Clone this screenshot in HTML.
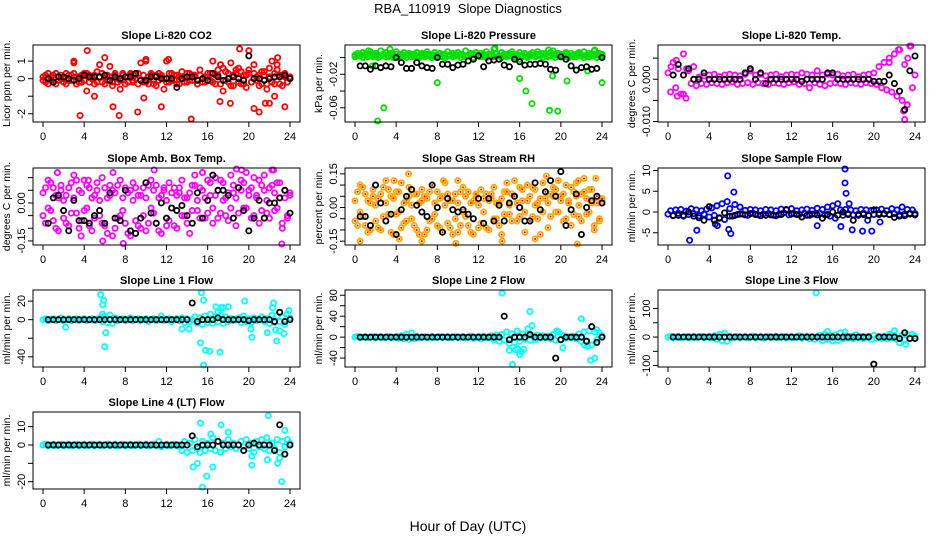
<!DOCTYPE html>
<html><head><meta charset="utf-8">
<style>
html,body{margin:0;padding:0;background:#fff;}
svg{display:block;font-family:"Liberation Sans","DejaVu Sans",sans-serif;}
</style></head>
<body>
<svg id="chart" width="936" height="540" viewBox="0 0 936 540">
<text x="468" y="13" text-anchor="middle" font-size="13" xml:space="preserve">RBA_110919  Slope Diagnostics</text>
<text x="468" y="531" text-anchor="middle" font-size="14">Hour of Day (UTC)</text>
<g id="panels"></g>
</svg>
<script>
// ---- data (hours at 0.25 h steps for coloured series, 0.5 h steps from 0.5 for black series) ----
const xTicks = [0,4,8,12,16,20,24];
const co2C = [0.1,-0.2,0.3,-0.1,0.2,-0.3,0.1,0.0,-0.2,0.3,-0.1,0.2,0.9,-0.3,0.1,-0.2,0.3,-0.7,0.2,0.1,-0.3,0.4,0.8,-0.2,0.1,-0.1,0.7,-0.4,0.2,-0.2,-0.6,0.3,0.1,-0.2,0.3,-0.1,0.2,-0.3,0.9,-0.2,1.0,-0.3,0.2,-0.1,-0.4,0.3,0.1,-0.6,1.0,-0.2,0.3,-0.1,0.2,-0.3,0.4,0.1,-0.2,0.3,-0.1,0.2,-0.3,0.5,-0.2,0.1,0.3,-0.1,1.0,-0.3,0.2,0.8,-0.7,0.4,-0.2,0.9,-0.4,0.3,0.6,-0.3,0.2,-0.5,0.3,-0.2,0.8,-0.1,0.2,-0.3,0.4,-0.6,0.1,1.0,-0.3,0.8,0.2,-0.4,0.3,-0.2,0.1];
const co2C2 = [-0.1,0.2,-0.3,0.1,-0.2,0.3,-0.1,0.2,0.0,-0.3,0.2,-0.1,0.3,0.1,-0.2,0.2,-0.1,0.3,-0.2,0.0,0.2,-0.2,0.1,0.3,-0.3,0.2,0.1,-0.2,0.3,0.0,-0.1,0.2,-0.3,0.1,0.2,-0.2,0.0,0.3,-0.1,0.2,-0.2,0.1,0.3,-0.3,0.2,-0.1,0.2,0.0,-0.2,0.3,-0.1,0.2,-0.3,0.1,0.0,-0.2,0.3,-0.1,0.2,0.1,-0.3,0.2,0.0,-0.2,0.1,0.3,-0.2,0.2,0.5,-0.3,0.6,-0.1,0.3,-0.4,0.2,0.5,-0.2,0.4,-0.3,0.2,0.5,-0.2,0.3,0.1,-0.4,0.4,0.2,-0.3,0.6,-0.2,0.3,0.5,-0.3,0.2,0.1,-0.2,0.0];
const co2OutX = [3.6,4.3,7.4,9.2,14.4,19.1,20,11.5,6.8,20.5,21,23.5,17.2,18.2,5,9.8,22.5,6,3,12.2,10,22.8,21.6,22];
const co2OutY = [-2.1,1.6,-2.1,-1.9,-2.3,1.7,1.6,-1.6,-1.6,-1.7,-1.9,-1.6,-1.3,-1.4,-1.0,-1.1,-1.0,1.2,1.0,1.1,1.1,1.2,-1.4,-1.4];
const co2B = [0,-0.2,0.1,0.1,0,-0.1,0,0.2,0.1,0.1,0.1,0.2,-0.1,0.1,0,0.1,0.1,0.3,-0.1,-0.1,0.1,0.1,0,0,0,-0.5,0,0.1,0.1,-0.1,0,-0.1,0.3,0.1,-0.1,0,0.1,0,-0.1,1.3,0,0,-0.1,0,0.1,0.1,0.2,0];

const prC = [0.003,0.005,0.002,0.006,0.004,0.001,0.007,0.003,0.005,0.002,0.008,0.004,0.006,0.001,0.005,0.003,0.007,0.002,0.004,0.006,0.003,0.005,0.001,0.004,0.006,0.002,0.005,0.003,0.007,0.004,0.002,0.006,0.003,0.005,0.001,0.004,0.007,0.003,0.005,0.002,0.006,0.004,0.003,0.008,0.002,0.005,0.004,0.006,0.003,0.005,0.002,0.007,0.004,0.003,0.010,0.005,0.002,0.006,0.004,0.003,0.005,0.007,0.002,0.004,0.006,0.003,0.005,0.001,0.004,0.006,0.002,0.007,0.003,0.005,0.004,0.002,0.006,0.008,0.003,0.005,0.004,0.002,0.006,0.003,0.005,0.001,0.004,0.006,0.003,0.007,0.002,0.005,0.004,0.008,0.003,0.005,0.004];
const prC2 = [0.001,0.002,0.004,0.000,0.003,0.002,0.004,0.001,0.003,0.000,0.002,0.004,0.001,0.003,0.002,0.000,0.004,0.001,0.003,0.002,0.000,0.003,0.004,0.001,0.002,0.000,0.003,0.001,0.004,0.002,0.000,0.003,0.001,0.002,0.004,0.000,0.002,0.003,0.001,0.004,0.002,0.000,0.003,0.001,0.002,0.004,0.000,0.003,0.002,0.001,0.004,0.000,0.002,0.003,0.001,0.004,0.002,0.000,0.003,0.001,0.002,0.004,0.000,0.003,-0.002,0.001,0.004,0.000,0.002,0.003,0.001,0.004,0.002,0.000,0.003,0.001,0.002,0.004,0.000,0.003,0.002,0.001,0.004,0.000,0.002,0.003,0.001,0.004,0.002,0.000,0.003,0.001,0.002,0.004,0.000,0.003,0.002];
const prOutX = [2.2,2.8,8,16,16.6,17.2,18.9,19.7,20.6,24,1.7,19.2,22.6,1.3,3.4,13.6,18.8,23.3];
const prOutY = [-0.085,-0.060,-0.030,-0.025,-0.040,-0.055,-0.063,-0.064,-0.028,-0.030,-0.010,-0.022,-0.016,0.008,0.010,0.011,0.009,0.009];
const prB = [-0.010,-0.010,-0.014,-0.010,-0.012,-0.010,-0.011,0.000,-0.006,-0.013,-0.013,-0.006,-0.010,-0.012,-0.013,0.000,-0.008,-0.008,-0.012,-0.009,-0.008,-0.004,-0.002,0.002,-0.011,-0.004,-0.003,-0.002,-0.009,-0.011,-0.002,-0.005,-0.009,-0.008,-0.008,-0.007,-0.008,-0.014,-0.015,0.001,-0.002,-0.010,-0.015,-0.012,-0.011,-0.014,-0.013,0.000];

const tpC = [0.0015,-0.0030,0.0040,-0.0020,0.0025,-0.0035,0.0060,-0.0045,0.0020,-0.0010,0.0030,-0.0015,0.0005,-0.0010,0.0008,-0.0012,0.0010,-0.0008,0.0012,-0.0010,0.0006,-0.0012,0.0010,-0.0008,0.0012,-0.0006,0.0010,-0.0012,0.0008,-0.0010,0.0012,-0.0008,0.0020,-0.0012,0.0010,-0.0008,0.0012,-0.0010,0.0008,-0.0012,0.0010,-0.0008,0.0012,-0.0010,0.0006,-0.0012,0.0010,-0.0008,0.0012,-0.0006,0.0010,-0.0012,0.0015,-0.0010,0.0012,-0.0020,0.0010,-0.0008,0.0020,-0.0012,0.0010,-0.0015,0.0012,-0.0010,0.0010,-0.0008,0.0012,-0.0010,0.0008,-0.0012,0.0010,-0.0008,0.0012,-0.0010,0.0006,-0.0012,0.0010,-0.0008,0.0012,-0.0010,0.0015,-0.0012,0.0030,-0.0020,0.0040,-0.0025,0.0050,-0.0030,0.0060,-0.0040,0.0070,-0.0050,0.0035,-0.0060,0.0080,-0.0020,0.0010];
const tpOutX = [0.8,0.3,1.5,0.9,23.0,22.9,23.3,23.6,21.5,22.4,1.8];
const tpOutY = [0.0045,0.0030,-0.0035,-0.0040,-0.0095,-0.0075,0.0050,0.0080,0.0040,0.0070,0.0025];
const tpB = [0.001,0.0035,0.001,0.0025,0,0,0.0015,0,0,0,0,0,0,0,0.0015,0.0025,0,0.0015,-0.0010,0,0,0,0,0,0,-0.0005,0,0,0,0,0.0015,0.0015,0,0,0,0,0,0,0,-0.0005,-0.0005,-0.0005,0.0010,-0.0010,-0.0028,-0.0072,0.0020,0.0055];

const abC = [0.04,-0.08,0.09,-0.03,0.06,-0.10,0.02,0.07,-0.06,0.03,-0.09,0.08,0.11,-0.04,0.05,-0.07,0.09,-0.02,0.06,-0.11,0.03,0.08,-0.05,0.10,-0.09,0.02,0.07,-0.13,0.04,-0.06,0.09,-0.03,0.06,-0.12,0.05,0.08,-0.07,0.03,-0.10,0.06,0.02,-0.08,0.09,-0.04,0.07,-0.11,0.03,0.05,-0.09,0.08,-0.02,0.06,-0.10,0.04,0.09,-0.05,0.02,-0.12,0.07,0.11,-0.03,0.06,0.12,-0.06,0.09,0.03,-0.08,0.10,0.05,-0.04,0.08,0.02,-0.07,0.11,0.04,-0.09,0.06,0.09,-0.02,0.12,0.05,-0.06,0.10,0.03,-0.08,0.07,0.11,-0.04,0.06,0.13,-0.03,0.08,0.02,-0.10,0.05,-0.06,0.03];
const abC2 = [-0.05,0.06,-0.02,0.08,-0.07,0.03,-0.11,0.05,0.01,-0.08,0.06,-0.04,0.02,0.09,-0.10,0.04,-0.03,0.07,-0.09,0.02,-0.06,0.05,0.01,-0.08,0.06,-0.12,0.03,0.05,-0.10,0.07,-0.05,0.02,-0.08,0.04,-0.13,0.01,0.06,-0.09,0.03,-0.05,-0.11,0.07,-0.02,0.05,-0.08,0.02,-0.12,0.06,0.01,-0.07,0.04,-0.09,0.03,0.06,-0.05,0.02,-0.08,0.04,-0.03,0.07,0.01,-0.06,0.05,0.02,-0.04,0.08,-0.02,0.03,-0.06,0.09,0.01,-0.05,0.04,-0.02,0.07,0.02,-0.04,0.05,0.08,-0.02,0.03,0.06,-0.05,0.02,0.09,-0.03,0.05,0.01,-0.06,0.07,0.04,-0.02,0.08,-0.08,0.02,-0.05,0.04];
const abOutX = [3.7,5.8,7.8,23.2,1.4,6.8,10.8,18.8,19.3,22.4,4.4];
const abOutY = [-0.13,-0.15,-0.16,-0.17,0.12,0.12,0.13,0.14,0.13,0.13,0.09];
const abB = [-0.08,0.02,0.03,-0.03,-0.11,0.01,-0.07,-0.07,-0.08,-0.05,-0.03,-0.08,0.04,-0.06,-0.07,0.05,-0.11,-0.12,-0.06,0.08,-0.04,-0.08,0.00,-0.06,-0.02,-0.03,-0.01,-0.05,-0.08,0.04,-0.06,0.01,0.11,0.05,0.05,0.03,-0.06,0.06,-0.03,-0.11,-0.06,0.01,-0.06,0.00,0.00,0.02,0.05,-0.04];

const rhC = [0.03,-0.08,0.10,-0.04,0.06,-0.11,0.02,0.08,-0.06,0.04,-0.10,0.09,0.12,-0.03,0.05,-0.12,0.07,-0.02,0.11,-0.07,0.03,0.09,-0.05,0.06,-0.10,0.02,0.08,-0.12,0.04,-0.06,0.10,-0.03,0.07,-0.09,0.05,0.11,-0.07,0.03,-0.12,0.06,0.02,-0.08,0.09,-0.04,0.07,-0.11,0.03,0.05,-0.09,0.08,-0.02,0.06,-0.10,0.04,0.09,-0.05,0.02,-0.12,0.07,0.11,-0.03,0.06,0.12,-0.06,0.09,0.03,-0.11,0.10,0.05,-0.04,0.08,0.02,-0.12,0.11,0.04,-0.09,0.06,0.09,-0.02,0.12,0.05,-0.06,0.10,0.03,-0.08,0.07,0.11,-0.04,0.06,0.13,-0.03,0.08,0.02,-0.10,0.05,-0.06,0.03];
const rhC2 = [-0.06,0.07,-0.02,0.09,-0.08,0.03,-0.10,0.05,0.01,-0.09,0.06,-0.04,0.02,0.08,-0.11,0.04,-0.03,0.07,-0.09,0.02,-0.06,0.05,0.01,-0.08,0.06,-0.12,0.03,0.05,-0.10,0.07,-0.05,0.02,-0.08,0.04,-0.11,0.01,0.06,-0.09,0.03,-0.05,-0.11,0.07,-0.02,0.05,-0.08,0.02,-0.12,0.06,0.01,-0.07,0.04,-0.09,0.03,0.06,-0.05,0.02,-0.08,0.04,-0.03,0.07,0.01,-0.06,0.05,0.02,-0.04,0.08,-0.02,0.03,-0.06,0.09,0.01,-0.05,0.04,-0.02,0.07,0.02,-0.04,0.05,0.08,-0.02,0.03,0.06,-0.05,0.02,0.09,-0.03,0.05,0.01,-0.06,0.07,0.04,-0.02,0.08,-0.08,0.02,-0.05,0.04];
const rhOutX = [0.5,3.8,5.2,8.6,10,4.3,9.8,14.3,18.6,21.6,21.7,23.4,6.5,17.5];
const rhOutY = [-0.15,0.12,0.15,0.12,0.12,-0.14,-0.16,-0.15,0.14,-0.18,0.12,0.13,-0.15,-0.14];
const rhB = [-0.04,-0.04,-0.08,0.10,0.02,-0.06,-0.03,-0.12,-0.01,0.05,0.08,0.01,-0.02,-0.04,0.10,0.00,-0.11,0.04,-0.01,-0.02,-0.01,-0.03,-0.05,0.04,-0.07,0.04,-0.06,0.01,-0.06,0.02,0.05,0.00,-0.06,-0.06,0.11,-0.01,0.07,0.12,0.05,0.16,-0.08,-0.01,0.06,-0.12,0.00,0.03,0.05,0.02];

const sfC = [-0.5,0.3,-0.8,0.5,-0.3,0.6,-1.0,0.2,-0.6,0.8,-0.4,0.5,-0.9,0.3,-0.5,0.7,-1.2,1.0,-0.8,1.5,-1.5,2.0,-1.8,2.5,0.8,-1.0,1.8,-0.6,1.2,-0.5,0.4,-0.8,0.6,-0.3,0.5,-0.7,0.3,-0.5,0.6,-0.4,0.5,-0.8,0.3,-0.6,0.7,-0.2,0.5,-0.7,0.8,-0.4,0.3,-0.6,0.5,-0.3,0.7,-0.8,0.4,-0.5,0.9,-0.3,0.6,-0.7,1.2,-1.0,1.5,-1.5,2.0,0.5,-0.8,0.6,-0.4,0.5,-0.7,0.3,-0.5,0.6,-0.3,0.5,-0.8,0.4,-0.6,0.5,-0.3,0.7,-0.5,0.3,-0.6,0.8,-0.4,0.5,-0.7,1.2,-0.5,0.6,-0.3,0.5,-0.4];
const sfOutX = [2.1,2.8,4.6,4.8,5.8,5.9,6.1,6.4,14.5,16.8,17.2,17.2,17.3,17.6,17.9,18.9,19.4,19.8,20.6];
const sfOutY = [-6.8,-4.4,-2.9,-3.3,8.7,-4.2,-5.2,4.8,-3.3,-3.5,10.5,7.0,4.5,2.0,-4.3,-4.6,-2.0,-4.6,-2.4];
const sfB = [-0.9,-0.8,-0.8,0.0,-1.0,-1.4,-2.0,1.3,-2.0,-1.4,-0.2,-1.0,-0.8,-0.5,-0.7,-0.4,-0.6,-0.9,-0.8,-0.7,-0.9,-0.6,0.6,-0.5,-0.6,-1.2,-0.8,-0.5,-0.7,-1.5,-0.6,0.0,-0.8,0.0,-0.6,-2.0,-0.8,-0.6,-0.9,0.5,-0.6,-0.4,-0.6,-1.3,-1.0,-0.9,-0.5,-0.7];

const l1C = [0,1,-1,0,1,-1,0,2,-1,0,1,-1,0,1,-1,0,1,-1,0,1,-1,0,2,-2,4,-3,5,-4,2,-1,0,1,-1,0,2,-1,0,1,-1,0,1,-2,0,1,-1,0,4,-1,0,1,-2,0,1,-1,2,-3,1,-2,0,3,-4,2,-5,4,-3,6,-4,3,-2,5,-4,3,-2,1,-1,0,2,-3,4,-2,1,-3,2,-1,0,3,-2,1,-4,5,-3,4,-2,3,-5,6,2];
const l1OutX = [5.6,5.8,5.9,6.1,6.0,5.8,15.3,15.6,15.4,15.6,15.8,16.2,16.8,17.0,17.2,17.3,17.5,18.0,19.6,20.2,20.3,21.8,22.3,22.4,22.6,22.7,23.0,23.4,23.9,2.2,13.5,14.2];
const l1OutY = [27,16,21,-14,-29,6,-25,21,29,-49,-33,-34,14,8,-35,13,13,14,20,-10,-19,-14,13,18,-11,-23,-12,-15,10,-8,-10,-10];
const l1B = [0,0,0,0,0,0,0,0,0,0,0,0,0,0,0,0,0,0,0,0,0,0,0,0,0,0,0,0,18,-2,0,0,0,2,0,0,0,0,0,-1,0,0,0,0,-2,8,-2,0];

const l2C = [0,1,-1,0,1,-1,0,1,-1,0,1,-1,0,1,-1,0,1,-2,3,-3,6,-4,8,-3,2,-1,0,1,-1,0,1,-1,0,1,-1,0,1,-1,0,1,-1,0,1,-1,0,2,-2,0,1,-3,2,-1,0,3,-5,4,-8,5,-6,10,-12,6,-10,12,-8,6,-4,5,-6,3,-5,4,-2,3,-1,2,-3,5,-6,10,-4,3,-2,1,-1,2,-3,6,-8,10,-6,12,-15,10,-5,8,3];
const l2OutX = [14.3,15.0,15.3,15.6,15.8,16.0,16.2,16.4,16.8,17.0,17.2,19.6,20.2,22.0,22.3,22.6,22.9,23.3,23.5];
const l2OutY = [84,-25,-52,-24,-22,-33,-28,-23,16,49,22,12,-20,35,-15,-17,-44,-40,14];
const l2B = [0,0,0,0,0,0,0,0,0,0,0,0,0,0,0,0,0,0,0,0,0,0,0,0,0,0,0,0,40,-5,0,0,0,5,0,0,0,0,-40,-5,0,0,0,0,-8,20,-10,0];

const l3C = [0,2,-2,0,3,-2,0,2,-3,0,2,-2,0,3,-2,0,2,-3,5,-8,10,-12,14,-15,3,-2,0,2,-3,0,2,-2,0,3,-2,0,2,-3,0,2,-2,0,3,-2,0,2,-3,0,2,-2,0,5,-4,0,3,-6,2,-8,0,6,-12,10,-8,5,-14,8,-12,15,-6,5,-3,2,-6,8,-3,2,-5,0,3,-8,6,-4,2,-5,3,-6,10,-3,5,-8,-20,6,-10,8,-5,10,3];
const l3OutX = [14.4,15.5,17.2,22.0,23.1];
const l3OutY = [155,20,18,22,-25];
const l3B = [0,0,0,0,0,0,0,0,0,0,0,0,0,0,0,0,0,0,0,0,0,0,0,0,0,0,0,0,0,0,0,0,0,0,0,0,0,0,0,-95,0,0,0,0,-5,15,-5,-5];

const l4C = [0,0.5,-0.5,0,0.5,-0.5,0,0.5,-0.5,0,0.5,-0.5,0,0.5,-0.5,0,0.5,-0.5,0,0.5,-0.5,0,0.5,-0.5,0,0.5,-0.5,0,0.5,-0.5,0,0.5,-0.5,0,0.5,-0.5,0,0.5,-0.5,0,0.5,-0.5,0,0.5,-0.5,2,-1,0,0.5,-0.5,0,0.5,-0.5,0,-3,2,-4,1,-3,3,-2,-4,2,-3,1,-2,4,-3,2,-4,1,-2,3,-1,1,-2,0,2,-1,3,-2,1,-4,2,-1,3,-2,4,-3,1,-2,3,-4,2,-1,3,1];
const l4OutX = [14.6,15.0,15.5,15.3,15.9,16.3,16.5,17.3,18.0,20.3,20.3,21.9,21.8,22.8,23.0,23.2,23.5];
const l4OutY = [-12,-10,-23,12,-17,6,-12,11,7,-11,-6,16,-8,-10,-7,-20,8];
const l4B = [0,0,0,0,0,0,0,0,0,0,0,0,0,0,0,0,0,0,0,0,0,0,0,0,0,0,0,0,5,-1,0,0,0,2,0,0,0,0,-3,0,1,0,0,0,-3,11,-5,0];

// ---- layout (not data) ----
const colLeft = [33, 345, 658];
const rowTop = [45, 168, 290, 412];
const BW = 267, BH = 77;
const step = 0.25, bStep = 0.5, bStart = 0.5;

const panels = [
 {name:'co2', title:'Slope Li-820 CO2', ylab:'Licor ppm per min.', col:0,row:0, top:1.92,bot:-2.47, ticks:[1,0,-1,-2], labels:['1','0','','-2'], color:'#ff0000', c:[co2C,co2C2], ox:co2OutX, oy:co2OutY, b:co2B},
 {name:'pressure', title:'Slope Li-820 Pressure', ylab:'kPa per min.', col:1,row:0, top:0.015,bot:-0.077, ticks:[0,-0.02,-0.04,-0.06], labels:['','-0.02','','-0.06'], color:'#00e000', c:[prC,prC2], ox:prOutX, oy:prOutY, b:prB},
 {name:'temp', title:'Slope Li-820 Temp.', ylab:'degrees C per min.', col:2,row:0, top:0.0081,bot:-0.0101, ticks:[0.005,0,-0.005,-0.01], labels:['','0.000','','-0.010'], color:'#ff00ff', c:[tpC], ox:tpOutX, oy:tpOutY, b:tpB},
 {name:'amb-box-temp', title:'Slope Amb. Box Temp.', ylab:'degrees C per min.', col:0,row:1, top:0.138,bot:-0.166, ticks:[0.1,0.05,0,-0.05,-0.1,-0.15], labels:['','','0.00','','','-0.15'], color:'#ff00ff', c:[abC,abC2], ox:abOutX, oy:abOutY, b:abB},
 {name:'gas-rh', title:'Slope Gas Stream RH', ylab:'percent per min.', col:1,row:1, top:0.176,bot:-0.167, ticks:[0.15,0.1,0.05,0,-0.05,-0.1,-0.15], labels:['0.15','','','0.00','','','-0.15'], color:'#ffa500', inner:'#ff0000', c:[rhC,rhC2], ox:rhOutX, oy:rhOutY, b:rhB},
 {name:'sample-flow', title:'Slope Sample Flow', ylab:'ml/min per min.', col:2,row:1, top:10.6,bot:-7.95, ticks:[10,5,0,-5], labels:['10','5','0','-5'], color:'#0000ff', c:[sfC], ox:sfOutX, oy:sfOutY, b:sfB},
 {name:'line1-flow', title:'Slope Line 1 Flow', ylab:'ml/min per min.', col:0,row:2, top:32,bot:-51, ticks:[20,0,-20,-40], labels:['20','0','','-40'], color:'#00ffff', c:[l1C], ox:l1OutX, oy:l1OutY, b:l1B},
 {name:'line2-flow', title:'Slope Line 2 Flow', ylab:'ml/min per min.', col:1,row:2, top:90,bot:-57, ticks:[80,60,40,20,0,-20,-40], labels:['80','','40','','0','','-40'], color:'#00ffff', c:[l2C], ox:l2OutX, oy:l2OutY, b:l2B},
 {name:'line3-flow', title:'Slope Line 3 Flow', ylab:'ml/min per min.', col:2,row:2, top:165,bot:-105, ticks:[100,50,0,-50,-100], labels:['100','','0','','-100'], color:'#00ffff', c:[l3C], ox:l3OutX, oy:l3OutY, b:l3B},
 {name:'line4-flow', title:'Slope Line 4 (LT) Flow', ylab:'ml/min per min.', col:0,row:3, top:18,bot:-24, ticks:[10,0,-10,-20], labels:['10','0','','-20'], color:'#00ffff', c:[l4C], ox:l4OutX, oy:l4OutY, b:l4B}
];

const NS='http://www.w3.org/2000/svg';
function mk(tag, attrs, parent){const e=document.createElementNS(NS,tag);for(const k in attrs)e.setAttribute(k,attrs[k]);parent.appendChild(e);return e;}
const root=document.getElementById('panels');

panels.forEach(p=>{
  const L=colLeft[p.col], T=rowTop[p.row];
  const xs=h=>L+10+h*(BW-20)/24;
  const ys=v=>T+(p.top-v)/(p.top-p.bot)*BH;
  const g=mk('g',{},root);
  
  
  const t=mk('text',{x:L+BW/2,y:T-6,'text-anchor':'middle','font-size':11,'font-weight':'bold'},g);
  t.textContent=p.title;
  
  
  const yl=mk('text',{x:0,y:0,'text-anchor':'middle','font-size':10.5,transform:`translate(${L-23},${T+BH/2}) rotate(-90)`},g);
  yl.textContent=p.ylab;
  
  
  const pts=mk('g',{fill:'none','stroke-width':1.8},g);
  
  
  const drawPt=(h,v,col,inner)=>{
    const y=Math.max(T+1,Math.min(T+BH-1,ys(v)));
    const c=mk('circle',{cx:xs(h),cy:y,r:2.6,stroke:col},pts);
    
    
    if(inner){mk('circle',{cx:xs(h),cy:y,r:1,fill:inner,stroke:'none'},pts);}
  };
  p.c.forEach(arr=>arr.forEach((v,i)=>{const h=i*step; if(h<=24.2) drawPt(h,v,p.color,p.inner);}));
  p.ox.forEach((h,i)=>drawPt(h,p.oy[i],p.color,p.inner));
  p.b.forEach((v,i)=>drawPt(bStart+i*bStep,v,'#000'));
  const box=mk('rect',{x:L,y:T,width:BW,height:BH,fill:'none',stroke:'#000','stroke-width':1},g);
  
  
  const xa=mk('g',{},g);
  
  
  mk('line',{x1:xs(0),x2:xs(24),y1:T+BH,y2:T+BH,stroke:'#000'},xa);
  xTicks.forEach(h=>{
    mk('line',{x1:xs(h),x2:xs(h),y1:T+BH,y2:T+BH+5,stroke:'#000'},xa);
    const tl=mk('text',{x:xs(h),y:T+BH+18,'text-anchor':'middle','font-size':11},xa);
    tl.textContent=h;
    
    
  });
  const ya=mk('g',{},g);
  
  
  p.ticks.forEach((v,i)=>{
    mk('line',{x1:L-5,x2:L,y1:ys(v),y2:ys(v),stroke:'#000'},ya);
    if(p.labels[i]){
      const tl=mk('text',{x:0,y:0,'text-anchor':'middle','font-size':11,transform:`translate(${L-8},${ys(v)}) rotate(-90)`},ya);
      tl.textContent=p.labels[i];
      
      
    }
  });
});
</script>
</body></html>
